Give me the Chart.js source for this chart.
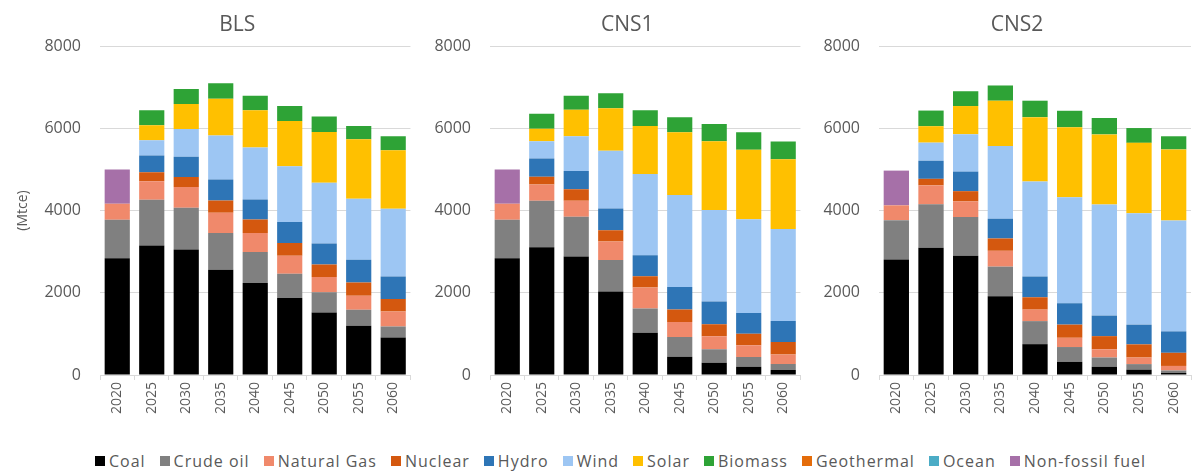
<!DOCTYPE html>
<html>
<head>
<meta charset="utf-8">
<script src="https://cdn.jsdelivr.net/npm/chart.js@4/dist/chart.umd.min.js"></script>
<style>
  html, body { margin: 0; padding: 0; background: #fff; }
  body { width: 1193px; height: 474px; position: relative; overflow: hidden; font-family: 'Open Sans', sans-serif; }
  .panel { position: absolute; top: 0; height: 422px; }
  #legend { position: absolute; left: 0; width: 1193px; top: 450px; display: flex; justify-content: center; padding-left: 62px; box-sizing: border-box; color: #595959; font-size: 16px; letter-spacing: 1px; }
  #legend .item { display: flex; align-items: center; margin-right: 14px; white-space: nowrap; }
  #legend .box { width: 10px; height: 10px; margin-right: 4px; }
</style>
</head>
<body>
<div class="panel" style="left:0;width:412px"><canvas id="blsChart"></canvas></div>
<div class="panel" style="left:412px;width:390px"><canvas id="cns1Chart"></canvas></div>
<div class="panel" style="left:802px;width:391px"><canvas id="cns2Chart"></canvas></div>
<div id="legend"></div>
<script>
const years = ['2020', '2025', '2030', '2035', '2040', '2045', '2050', '2055', '2060'];
const seriesNames = ['Coal', 'Crude oil', 'Natural Gas', 'Nuclear', 'Hydro', 'Wind', 'Solar', 'Biomass', 'Geothermal', 'Ocean', 'Non-fossil fuel'];
const seriesColors = ['#000000', '#808080', '#f0896b', '#d4580f', '#2e75b6', '#9dc6f3', '#ffc000', '#2ea336', '#e46c0a', '#4bacc6', '#a670a8'];
const yTicks = [0, 2000, 4000, 6000, 8000];

// BLS
const blsCoal = [2840, 3150, 3050, 2560, 2235, 1870, 1520, 1195, 910];
const blsOil = [935, 1110, 1015, 895, 755, 590, 490, 390, 270];
const blsGas = [390, 450, 505, 490, 465, 440, 375, 340, 365];
const blsNuclear = [0, 220, 245, 300, 325, 310, 300, 325, 300];
const blsHydro = [0, 405, 490, 510, 490, 510, 510, 555, 550];
const blsWind = [0, 375, 675, 1070, 1260, 1355, 1480, 1480, 1650];
const blsSolar = [0, 365, 610, 895, 910, 1100, 1235, 1445, 1420];
const blsBiomass = [0, 360, 365, 375, 350, 365, 375, 325, 340];
const blsGeothermal = [0, 0, 0, 0, 0, 0, 0, 0, 0];
const blsOcean = [0, 0, 0, 0, 0, 0, 0, 0, 0];
const blsNonFossil = [830, 0, 0, 0, 0, 0, 0, 0, 0];

// CNS1
const cns1Coal = [2840, 3105, 2880, 2030, 1025, 445, 300, 200, 120];
const cns1Oil = [935, 1130, 970, 765, 590, 480, 325, 240, 145];
const cns1Gas = [390, 400, 385, 450, 510, 365, 320, 285, 235];
const cns1Nuclear = [0, 185, 280, 275, 275, 300, 290, 280, 305];
const cns1Hydro = [0, 445, 445, 530, 510, 550, 555, 500, 510];
const cns1Wind = [0, 420, 845, 1405, 1975, 2235, 2220, 2280, 2235];
const cns1Solar = [0, 300, 645, 1030, 1170, 1530, 1675, 1695, 1695];
const cns1Biomass = [0, 365, 340, 365, 380, 365, 420, 420, 430];
const cns1Geothermal = [0, 0, 0, 0, 0, 0, 0, 0, 0];
const cns1Ocean = [0, 0, 0, 0, 0, 0, 0, 0, 0];
const cns1NonFossil = [830, 0, 0, 0, 0, 0, 0, 0, 0];

// CNS2
const cns2Coal = [2810, 3095, 2900, 1915, 750, 320, 200, 130, 50];
const cns2Oil = [955, 1055, 940, 720, 560, 360, 225, 135, 60];
const cns2Gas = [360, 460, 380, 385, 280, 225, 200, 160, 110];
const cns2Nuclear = [0, 160, 250, 300, 300, 320, 320, 320, 320];
const cns2Hydro = [0, 440, 475, 480, 505, 520, 500, 480, 520];
const cns2Wind = [0, 440, 910, 1770, 2310, 2575, 2700, 2710, 2695];
const cns2Solar = [0, 400, 685, 1100, 1565, 1705, 1705, 1710, 1730];
const cns2Biomass = [0, 380, 360, 370, 400, 400, 400, 360, 320];
const cns2Geothermal = [0, 0, 0, 0, 0, 0, 0, 0, 0];
const cns2Ocean = [0, 0, 0, 0, 0, 0, 0, 0, 0];
const cns2NonFossil = [845, 0, 0, 0, 0, 0, 0, 0, 0];

const TEXT = '#595959';

// draws the panel title a bit left of the plot centre, like the original
const panelTitle = {
  id: 'panelTitle',
  afterDraw(chart, args, opts) {
    const { ctx, chartArea } = chart;
    ctx.save();
    ctx.fillStyle = TEXT;
    ctx.font = '21px "Open Sans"';
    ctx.textAlign = 'center';
    ctx.textBaseline = 'middle';
    ctx.fillText(opts.text, (chartArea.left + chartArea.right) / 2 - 18, 25);
    ctx.restore();
  }
};

function makePanel(id, title, series, axisWidth, rightPad, showAxisTitle) {
  const datasets = series.map((values, i) => ({
    label: seriesNames[i],
    data: values,
    backgroundColor: seriesColors[i],
    borderWidth: 0,
    categoryPercentage: 1,
    barPercentage: 0.73
  }));

  new Chart(document.getElementById(id), {
    type: 'bar',
    data: { labels: years, datasets: datasets },
    plugins: [panelTitle],
    options: {
      responsive: true,
      maintainAspectRatio: false,
      animation: false,
      layout: { padding: { top: 46, right: rightPad, bottom: 0, left: 0 } },
      plugins: {
        legend: { display: false },
        tooltip: { enabled: false },
        panelTitle: { text: title }
      },
      scales: {
        x: {
          stacked: true,
          afterFit: (scale) => { scale.height = 47; },
          grid: { display: true, drawOnChartArea: false, offset: true, color: '#d9d9d9', tickLength: 5 },
          border: { color: '#d9d9d9' },
          ticks: {
            color: TEXT,
            font: { family: 'Open Sans', size: 14 },
            minRotation: 90,
            maxRotation: 90,
            padding: 2,
            autoSkip: false
          }
        },
        y: {
          stacked: true,
          min: 0,
          max: 8000,
          afterFit: (scale) => { scale.width = axisWidth; },
          afterBuildTicks: (scale) => { scale.ticks = yTicks.map((v) => ({ value: v })); },
          grid: { color: '#d9d9d9', drawTicks: false },
          border: { display: false },
          title: {
            display: showAxisTitle,
            text: '(Mtce)',
            color: TEXT,
            font: { family: 'Open Sans', size: 14 },
            padding: { top: 15, bottom: 0 }
          },
          ticks: {
            color: TEXT,
            font: { family: 'Open Sans', size: 16 },
            padding: 19,
            callback: function(value) {
              return String(value);
            }
          }
        }
      }
    }
  });
}

makePanel('blsChart', 'BLS',
  [blsCoal, blsOil, blsGas, blsNuclear, blsHydro, blsWind, blsSolar, blsBiomass, blsGeothermal, blsOcean, blsNonFossil],
  100, 0, true);
makePanel('cns1Chart', 'CNS1',
  [cns1Coal, cns1Oil, cns1Gas, cns1Nuclear, cns1Hydro, cns1Wind, cns1Solar, cns1Biomass, cns1Geothermal, cns1Ocean, cns1NonFossil],
  78, 0, false);
makePanel('cns2Chart', 'CNS2',
  [cns2Coal, cns2Oil, cns2Gas, cns2Nuclear, cns2Hydro, cns2Wind, cns2Solar, cns2Biomass, cns2Geothermal, cns2Ocean, cns2NonFossil],
  77, 2, false);

const legend = document.getElementById('legend');
seriesNames.forEach((name, i) => {
  const item = document.createElement('div');
  item.className = 'item';
  const box = document.createElement('span');
  box.className = 'box';
  box.style.background = seriesColors[i];
  const label = document.createElement('span');
  label.textContent = name;
  item.appendChild(box);
  item.appendChild(label);
  legend.appendChild(item);
});
</script>
</body>
</html>
